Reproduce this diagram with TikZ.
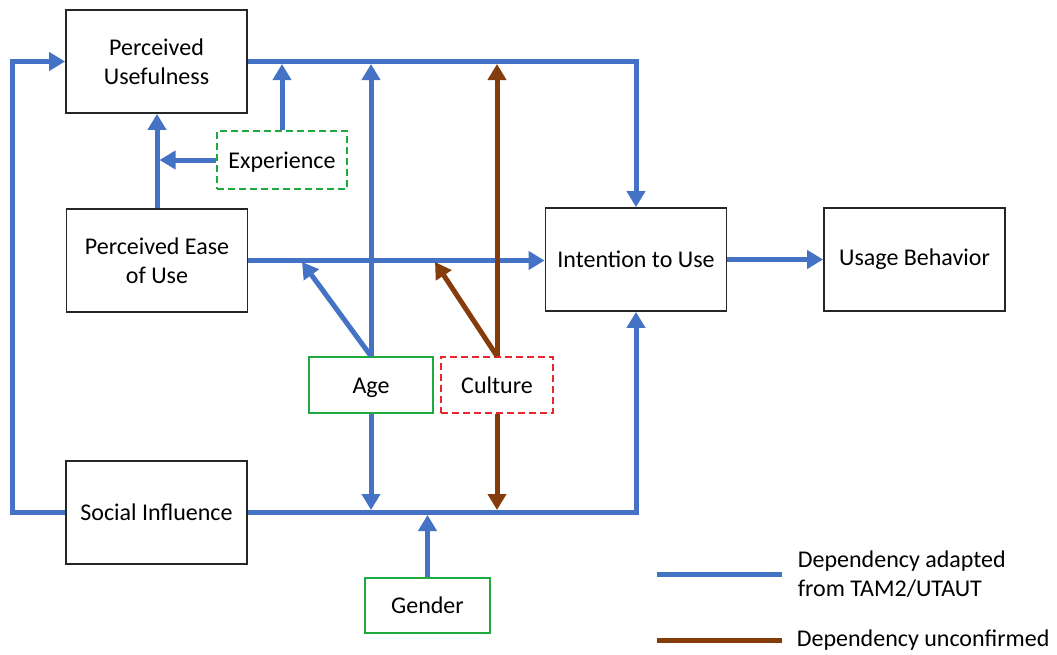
\documentclass[tikz,border=0pt]{standalone}
\usepackage{fontspec}
\setmainfont{Carlito}
\usetikzlibrary{calc}
\usetikzlibrary{arrows.meta}
\definecolor{tamblue}{HTML}{4472C4}
\definecolor{unbrown}{HTML}{843C0C}
\definecolor{modgreen}{HTML}{1EAA3C}
\definecolor{modred}{HTML}{E8262E}
\begin{document}
\begin{tikzpicture}[x=1pt,y=-1pt,>={Triangle[length=16pt,width=18pt]},
  font=\fontsize{24}{29.3}\selectfont,
  box/.style={draw=black!85,line width=1.8pt,minimum width=181pt,minimum height=103pt,align=center,inner sep=2pt},
  mod/.style={draw=modgreen,line width=1.8pt,minimum width=124pt,minimum height=56pt,inner sep=2pt,text height=20pt,text depth=4pt},
  moddash/.style={mod,dash pattern=on 7pt off 4pt},
  dep/.style={draw=tamblue,line width=5pt},
  unc/.style={draw=unbrown,line width=5pt}]
  \def\edge{2.5pt};
  \useasboundingbox (0,0) rectangle (1057,654);

  % Konstrukte
  \node[box] (pu) at (156.5,61.5) {Perceived\\Usefulness};
  \node[box] (peu) at (157,260.5) {Perceived Ease\\of Use};
  \node[box] (it) at (636,259.5) {Intention to Use};
  \node[box] (ub) at (914.5,259.5) {Usage Behavior};
  \node[box] (si) at (156.5,512.5) {Social Influence};
  % Moderatoren
  \node[moddash,minimum width=130pt,minimum height=58pt] (exp) at (282,160) {Experience};
  \node[mod] (age) at (371,385) {Age};
  \node[moddash,draw=modred,minimum width=112pt] (cul) at (497,385) {Culture};
  \node[mod,minimum width=125pt,minimum height=55pt] (gen) at (427.5,605.5) {Gender};
  \coordinate (lft) at (12,0); % linker Rand
  \coordinate (a1) at (302,262); % Spitze Age -> PEU-Pfeil
  \coordinate (c1) at (435,262); % Spitze Culture -> PEU-Pfeil

  % Pfeile TAM2/UTAUT
  \draw[dep,->] (pu.east) -- (pu.east -| it.north) -- (it.north);
  \draw[dep,->] (peu.north) -- (peu.north |- pu.south);
  \draw[dep,->] (peu.east) -- (peu.east -| it.west);
  \draw[dep,->] (it.east) -- (ub.west);
  \draw[dep,->] (si.east) -- (si.east -| it.south) -- (it.south);
  \draw[dep,->] (si.west) -- (si.west -| lft) -- (pu.west -| lft) -- (pu.west);
  \draw[dep,->,shorten >=\edge] (exp.north) -- (exp.north |- pu.east);
  \draw[dep,->,shorten >=\edge] (exp.west) -- (exp.west -| peu.north);
  \draw[dep,->,shorten >=\edge] (age.north) -- (age.north |- pu.east);
  \draw[dep,->] (age.north) -- (a1);
  \draw[dep,->,shorten >=\edge] (age.south) -- (age.south |- si.east);
  \draw[dep,->,shorten >=\edge] (gen.north) -- (gen.north |- si.east);
  % Pfeile unbestaetigt
  \draw[unc,->,shorten >=\edge] (cul.north) -- (cul.north |- pu.east);
  \draw[unc,->] (cul.north) -- (c1);
  \draw[unc,->,shorten >=\edge] (cul.south) -- (cul.south |- si.east);

  % Legende
  \coordinate (l1) at (657,574);
  \coordinate (l2) at (657,640);
  \draw[dep] (l1) -- ++(125,0) node[align=left,anchor=west,xshift=10pt] (ltam) {Dependency adapted\\from TAM2/UTAUT};
  \draw[unc] (l2) -- ++(125,0) node[anchor=west,xshift=9pt] (lunc) {Dependency unconfirmed};
\end{tikzpicture}
\end{document}
